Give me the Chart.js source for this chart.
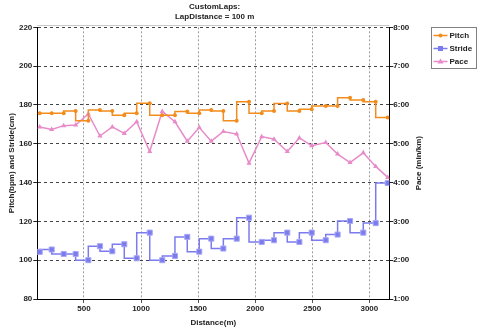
<!DOCTYPE html>
<html><head><meta charset="utf-8">
<script src="https://cdn.jsdelivr.net/npm/chart.js@4.4.0/dist/chart.umd.min.js"></script>
<style>html,body{margin:0;padding:0;background:#fff;}#wrap{width:480px;height:329px;}</style>
</head><body><div id="wrap"><canvas id="c" width="480" height="329"></canvas></div>
<script>
// ---- data ----
const titleLines = ['CustomLaps:', 'LapDistance = 100 m'];
const seriesNames = ['Pitch', 'Stride', 'Pace'];
const distance = [112, 217, 322, 427, 538, 640, 748, 853, 962, 1076, 1186, 1297, 1405, 1510, 1615, 1721, 1838, 1946, 2057, 2165, 2281, 2387, 2495, 2618, 2722, 2831, 2947, 3056, 3161];
const pitch = [175.7, 175.7, 175.7, 176.9, 171.8, 177.4, 176.9, 174.7, 175.7, 180.9, 174.7, 174.7, 176.6, 175.7, 177.4, 176.9, 171.8, 181.7, 175.7, 176.9, 180.7, 176.9, 177.8, 179.5, 179.5, 183.7, 182.6, 181.7, 173.5];
const stride = [104.3, 105.5, 103.2, 103.2, 100.0, 107.2, 104.6, 108.2, 101.0, 114.2, 100.0, 102.2, 112.0, 104.4, 111.1, 106.0, 111.1, 121.9, 109.4, 110.3, 114.2, 109.4, 114.2, 110.3, 113.2, 120.2, 114.2, 119.1, 139.8];
const paceSec = [326, 322, 328, 329, 346, 312, 326, 316, 334, 288, 350, 334, 304, 325, 304, 319, 315, 270, 311, 307, 288, 309, 297, 302, 284, 271, 286, 265, 248];
const xRange = [91, 3175];
const xTicks = [500, 1000, 1500, 2000, 2500, 3000];
const leftRange = [80, 220];
const leftTicks = [80, 100, 120, 140, 160, 180, 200, 220];
const paceRange = [60, 480]; // seconds per km: 1:00 .. 8:00
const paceTicks = [60, 120, 180, 240, 300, 360, 420, 480];
const xTitle = 'Distance(m)';
const leftTitle = 'Pitch(bpm) and Stride(cm)';
const rightTitle = 'Pace (min/km)';

const colors = {pitch: '#F28C1C', stride: '#7B7BEE', pace: '#E78BC9'};
const FONT = "'Liberation Sans', Arial, sans-serif";
const bold8 = {family: FONT, size: 8, weight: 'bold'};

function pts(ys) { return distance.map((d, i) => ({x: d, y: ys[i]})); }
function fmtPace(v) { const m = Math.floor(v / 60), s = Math.round(v % 60); return m + ':' + (s < 10 ? '0' : '') + s; }
function fixTicks(list) { return s => { s.ticks = list.map(v => ({value: v})); }; }

const customPlugin = {
  id: 'customDecor',
  afterDraw(chart) {
    const ctx = chart.ctx, a = chart.chartArea;
    ctx.save();
    // light top frame line
    ctx.strokeStyle = '#c8c8c8'; ctx.lineWidth = 1;
    ctx.beginPath(); ctx.moveTo(a.left, Math.round(a.top) - 1.5); ctx.lineTo(a.right, Math.round(a.top) - 1.5); ctx.stroke();
    // right axis title (reads bottom-to-top)
    const r = chart.scales.y1;
    ctx.save();
    ctx.translate(r.left + 29.7, (a.top + a.bottom) / 2);
    ctx.rotate(-Math.PI / 2);
    ctx.fillStyle = '#222'; ctx.font = 'bold 8px ' + FONT;
    ctx.textAlign = 'center'; ctx.textBaseline = 'middle';
    ctx.fillText(rightTitle, 0, 0);
    ctx.restore();
    // legend
    const bx = 431.5, by = 27.5, bw = 45, bh = 41;
    ctx.fillStyle = '#fff'; ctx.fillRect(bx, by, bw, bh);
    ctx.strokeStyle = '#808080'; ctx.lineWidth = 1; ctx.strokeRect(bx, by, bw, bh);
    const entries = [
      {name: seriesNames[0], c: colors.pitch, s: 'circle'},
      {name: seriesNames[1], c: colors.stride, s: 'rect'},
      {name: seriesNames[2], c: colors.pace, s: 'triangle'}
    ];
    entries.forEach((e, i) => {
      const y = 35.5 + i * 13;
      ctx.strokeStyle = e.c; ctx.lineWidth = 1.5;
      ctx.beginPath(); ctx.moveTo(433.5, y); ctx.lineTo(447.5, y); ctx.stroke();
      ctx.fillStyle = e.c;
      const cx = 440.5;
      ctx.beginPath();
      if (e.s === 'circle') { ctx.arc(cx, y, 2, 0, Math.PI * 2); ctx.fill(); }
      else if (e.s === 'rect') { ctx.fillRect(cx - 2.5, y - 2.5, 5, 5); }
      else { ctx.moveTo(cx, y - 3); ctx.lineTo(cx + 3, y + 2); ctx.lineTo(cx - 3, y + 2); ctx.closePath(); ctx.fill(); }
      ctx.fillStyle = '#222'; ctx.font = 'bold 8px ' + FONT;
      ctx.textAlign = 'left'; ctx.textBaseline = 'middle';
      ctx.fillText(e.name, 449.5, y + 0.5);
    });
    ctx.restore();
  }
};

new Chart(document.getElementById('c'), {
  type: 'line',
  data: {
    datasets: [
      {label: seriesNames[0], data: pts(pitch), yAxisID: 'y', stepped: 'after',
       borderColor: colors.pitch, backgroundColor: colors.pitch, borderWidth: 1.5,
       pointStyle: 'circle', pointRadius: 2, pointBorderWidth: 0},
      {label: seriesNames[1], data: pts(stride), yAxisID: 'y', stepped: 'after',
       borderColor: colors.stride, backgroundColor: colors.stride, borderWidth: 1.5,
       pointStyle: 'rect', pointRadius: 3.6, pointBorderWidth: 1, pointBorderColor: '#A8A8F6'},
      {label: seriesNames[2], data: pts(paceSec), yAxisID: 'y1',
       borderColor: colors.pace, backgroundColor: colors.pace, borderWidth: 1.5,
       pointStyle: 'triangle', pointRadius: 3, pointBorderWidth: 0}
    ]
  },
  options: {
    responsive: false, animation: false, devicePixelRatio: 1,
    layout: {padding: {left: 0, right: 50.7, top: 0, bottom: 0}},
    plugins: {
      legend: {display: false}, tooltip: {enabled: false},
      title: {display: true, text: titleLines, color: '#222', font: {family: FONT, size: 8, weight: 'bold', lineHeight: 1.25},
              padding: {top: 1.7, bottom: 5.6}}
    },
    scales: {
      x: {type: 'linear', min: xRange[0], max: xRange[1],
          afterBuildTicks: fixTicks(xTicks),
          ticks: {autoSkip: false, maxRotation: 0, padding: 1, color: '#222', font: bold8, callback: v => String(v)},
          grid: {color: '#9a9a9a', lineWidth: 1, tickLength: 4, tickColor: '#555'},
          border: {color: '#000', width: 1, dash: [2, 2]},
          title: {display: true, text: xTitle, color: '#222', font: bold8, padding: {top: 0, bottom: 1}},
          afterFit(s) { s.height = 30; }},
      y: {position: 'left', min: leftRange[0], max: leftRange[1],
          afterBuildTicks: fixTicks(leftTicks),
          ticks: {padding: 1, color: '#222', font: bold8, callback: v => String(v)},
          grid: {color: '#444', lineWidth: 1, tickLength: 4, tickColor: '#222'},
          border: {color: '#000', width: 1, dash: [3, 3]},
          title: {display: true, text: leftTitle, color: '#222', font: bold8, padding: {top: 7, bottom: 0}},
          afterFit(s) { s.width = 37.3; }},
      y1: {position: 'right', min: paceRange[0], max: paceRange[1],
           afterBuildTicks: fixTicks(paceTicks),
           ticks: {padding: 0, color: '#222', font: bold8, callback: v => fmtPace(v)},
           grid: {drawOnChartArea: false, tickLength: 4, tickColor: '#222'},
           border: {color: '#000', width: 1},
           title: {display: false},
           afterFit(s) { s.width = 40; }}
    }
  },
  plugins: [customPlugin]
});
</script></body></html>
